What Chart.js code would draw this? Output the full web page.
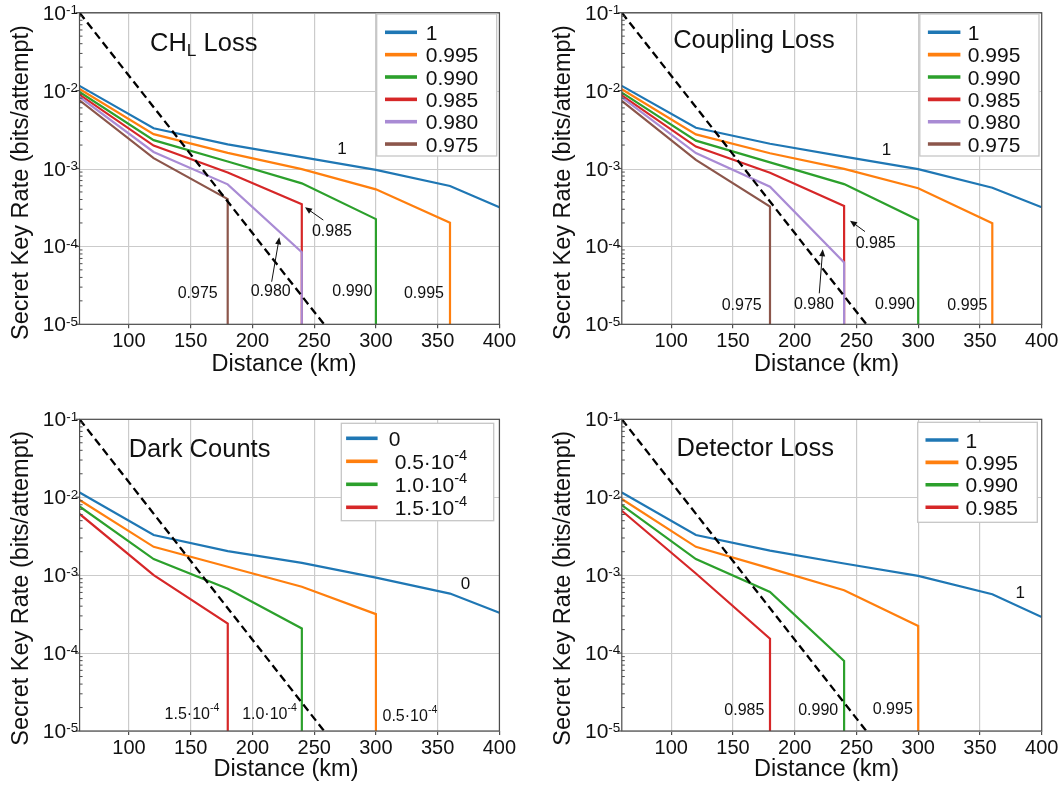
<!DOCTYPE html>
<html>
<head>
<meta charset="utf-8">
<title>Secret key rate vs distance</title>
<script src="https://cdn.jsdelivr.net/npm/chart.js@4.4.1/dist/chart.umd.min.js"></script>
<style>
  html, body { margin: 0; padding: 0; background: #fff; }
  #page { position: relative; width: 1062px; height: 789px; overflow: hidden; }
  #page canvas { position: absolute; }
</style>
</head>
<body>
<div id="page">
  <canvas id="chChl" width="531" height="390" style="left:0;top:0"></canvas>
  <canvas id="chCoupling" width="531" height="390" style="left:531px;top:0"></canvas>
  <canvas id="chDark" width="531" height="399" style="left:0;top:390px"></canvas>
  <canvas id="chDetector" width="531" height="399" style="left:531px;top:390px"></canvas>
</div>
<script>
/* Secret key rate (bits/attempt) vs distance (km), four loss/noise sweeps */

// ─── Data ───────────────────────────────────────────
const distanceKm = [60, 120, 180, 240, 300, 360, 400];
const xTicksKm = [100, 150, 200, 250, 300, 350, 400];
const yDecades = [1e-5, 1e-4, 1e-3, 1e-2, 1e-1];
const boundKm = [60, 258];
const boundRate = [1e-1, 1e-5];
const RATE_FLOOR = 1e-7; // rate hits zero past the cutoff distance

// CH_L loss
const chlLabels = ['1', '0.995', '0.990', '0.985', '0.980', '0.975'];
const chlRate1 = [0.0115, 0.00328, 0.00204, 0.00140, 0.00096, 0.000596, 0.000318];
const chlRate995 = [0.0105, 0.00276, 0.00159, 0.00098, 0.00054, 0.000201];
const chlRate990 = [0.0096, 0.00231, 0.00123, 0.000645, 0.000224];
const chlRate985 = [0.0089, 0.00197, 0.00089, 0.000347];
const chlRate980 = [0.0083, 0.00163, 0.000626, 0.000084];
const chlRate975 = [0.0075, 0.00136, 0.000405];

// Coupling loss
const cplLabels = ['1', '0.995', '0.990', '0.985', '0.980', '0.975'];
const cplRate1 = [0.0115, 0.00334, 0.00208, 0.00142, 0.00098, 0.000567, 0.000318];
const cplRate995 = [0.0104, 0.00274, 0.00157, 0.00099, 0.000557, 0.000198];
const cplRate990 = [0.0094, 0.00228, 0.00120, 0.00063, 0.000218];
const cplRate985 = [0.0087, 0.00191, 0.00088, 0.00033];
const cplRate980 = [0.0082, 0.00158, 0.000584, 0.000062];
const cplRate975 = [0.0074, 0.00129, 0.000324];

// Dark counts
const darkLabels = ['0', ' 0.5·10^{-4}', ' 1.0·10^{-4}', ' 1.5·10^{-4}'];
const darkRate0 = [0.0115, 0.00327, 0.00203, 0.00144, 0.00093, 0.00058, 0.00033];
const darkRate05 = [0.0092, 0.00231, 0.00128, 0.00071, 0.000316];
const darkRate10 = [0.0076, 0.00161, 0.00067, 0.000207];
const darkRate15 = [0.0061, 0.00100, 0.000239];

// Detector loss
const detLabels = ['1', '0.995', '0.990', '0.985'];
const detRate1 = [0.0115, 0.00327, 0.00206, 0.00141, 0.00098, 0.00057, 0.00029];
const detRate995 = [0.0095, 0.00231, 0.00122, 0.00064, 0.000223];
const detRate990 = [0.0079, 0.00161, 0.00061, 0.000079];
const detRate985 = [0.0067, 0.00105, 0.000153];

// ─── Styles ─────────────────────────────────────────
const FONT = '"Liberation Sans", Arial, Helvetica, sans-serif';
const COLORS = ['#1f77b4', '#ff7f0e', '#2ca02c', '#d62728', '#a98bd4', '#8c564b'];
const GRID = '#cbcbcb';
const FRAME = '#4d4d4d';
const INK = '#111';

Chart.defaults.font.family = FONT;
Chart.defaults.color = INK;

// ─── Helpers ────────────────────────────────────────
function toPoints(values) {
  const pts = values.map((v, i) => ({ x: distanceKm[i], y: v }));
  if (values.length < distanceKm.length) {
    pts.push({ x: distanceKm[values.length - 1], y: RATE_FLOOR });
  }
  return pts;
}

// text with ^{sup} and _{sub} parts, drawn on the alphabetic baseline
function drawRich(ctx, text, x, y, size, align, opt) {
  const o = Object.assign({ supScale: 0.66, supRaise: 0.4, subScale: 0.68, subDrop: 0.22 }, opt || {});
  const parts = text.split(/(\^\{[^}]*\}|_\{[^}]*\})/).filter(Boolean).map(s => {
    if (s[0] === '^') return { t: s.slice(2, -1), size: size * o.supScale, dy: -size * o.supRaise };
    if (s[0] === '_') return { t: s.slice(2, -1), size: size * o.subScale, dy: size * o.subDrop };
    return { t: s, size: size, dy: 0 };
  });
  let total = 0;
  parts.forEach(p => {
    ctx.font = p.size + 'px ' + FONT;
    p.w = ctx.measureText(p.t).width;
    total += p.w;
  });
  let cx = align === 'right' ? x - total : align === 'center' ? x - total / 2 : x;
  ctx.textAlign = 'left';
  ctx.textBaseline = 'alphabetic';
  parts.forEach(p => {
    ctx.font = p.size + 'px ' + FONT;
    ctx.fillText(p.t, cx, y + p.dy);
    cx += p.w;
  });
}

function seg(ctx, x1, y1, x2, y2) {
  ctx.beginPath();
  ctx.moveTo(x1, y1);
  ctx.lineTo(x2, y2);
  ctx.stroke();
}

function arrow(ctx, x1, y1, x2, y2) {
  const ang = Math.atan2(y2 - y1, x2 - x1);
  const len = 7, half = 3;
  seg(ctx, x1, y1, x2 - Math.cos(ang) * len * 0.6, y2 - Math.sin(ang) * len * 0.6);
  ctx.beginPath();
  ctx.moveTo(x2, y2);
  ctx.lineTo(x2 - Math.cos(ang) * len - Math.sin(ang) * half, y2 - Math.sin(ang) * len + Math.cos(ang) * half);
  ctx.lineTo(x2 - Math.cos(ang) * len + Math.sin(ang) * half, y2 - Math.sin(ang) * len - Math.cos(ang) * half);
  ctx.closePath();
  ctx.fill();
}

// ─── Decoration plugin: frame, log ticks, titles, legend, notes ──
const decorPlugin = {
  id: 'decor',
  beforeDatasetsDraw(chart) {
    const { ctx, chartArea: a } = chart;
    const ys = chart.scales.y;
    ctx.save();
    ctx.strokeStyle = GRID;
    ctx.lineWidth = 1.2;
    yDecades.forEach(v => {
      const py = Math.round(ys.getPixelForValue(v)) + 0.5;
      seg(ctx, a.left, py, a.right, py);
    });
    ctx.restore();
  },
  afterDatasetsDraw(chart, args, o) {
    const { ctx, chartArea: a } = chart;
    const xs = chart.scales.x, ys = chart.scales.y;
    ctx.save();

    // frame
    ctx.strokeStyle = FRAME;
    ctx.lineWidth = 1.2;
    ctx.strokeRect(a.left, a.top, a.right - a.left, a.bottom - a.top);

    // y major ticks + labels
    ctx.fillStyle = INK;
    yDecades.forEach(v => {
      const py = ys.getPixelForValue(v);
      seg(ctx, a.left - 4, py, a.left, py);
      drawRich(ctx, '10^{' + Math.round(Math.log10(v)) + '}', a.left - 1.5, py + 7, 21, 'right',
        { supScale: 0.64, supRaise: 0.27 });
    });
    // y minor ticks (inside)
    ctx.lineWidth = 1;
    yDecades.slice(0, -1).forEach(d => {
      for (let m = 2; m <= 9; m++) {
        const py = ys.getPixelForValue(m * d);
        seg(ctx, a.left, py, a.left + 3, py);
      }
    });

    // panel title
    drawRich(ctx, o.title.text, o.title.x, o.title.y, 25.5, 'left');

    // axis titles
    ctx.font = '23.5px ' + FONT;
    ctx.textAlign = 'center';
    ctx.textBaseline = 'middle';
    ctx.fillText('Distance (km)', o.xTitle.x, o.xTitle.y);
    ctx.save();
    ctx.translate(o.yTitle.x, o.yTitle.y);
    ctx.rotate(-Math.PI / 2);
    ctx.fillText('Secret Key Rate (bits/attempt)', 0, 0);
    ctx.restore();

    // legend
    const lg = o.legend;
    ctx.fillStyle = '#fff';
    ctx.fillRect(lg.left, lg.top, lg.right - lg.left, lg.bottom - lg.top);
    ctx.strokeStyle = '#c6c6c6';
    ctx.lineWidth = 1.3;
    ctx.strokeRect(lg.left, lg.top, lg.right - lg.left, lg.bottom - lg.top);
    o.labels.forEach((lab, i) => {
      const yc = lg.row0 + i * lg.rowGap;
      ctx.strokeStyle = COLORS[i];
      ctx.lineWidth = 3.6;
      seg(ctx, lg.line0, yc, lg.line1, yc);
      ctx.fillStyle = INK;
      drawRich(ctx, lab, lg.text, yc + 7.5, 21, 'left', { supScale: 0.7, supRaise: 0.42 });
    });

    // curve annotations
    ctx.fillStyle = INK;
    ctx.strokeStyle = INK;
    ctx.lineWidth = 1;
    o.notes.forEach(n => {
      const size = n.size || 16;
      const px = xs.getPixelForValue(n.x), py = ys.getPixelForValue(n.y);
      drawRich(ctx, n.text, px, py + size * 0.36, size, 'center', { supScale: 0.66, supRaise: 0.5 });
      if (n.from) {
        arrow(ctx, xs.getPixelForValue(n.from[0]), ys.getPixelForValue(n.from[1]),
          xs.getPixelForValue(n.to[0]), ys.getPixelForValue(n.to[1]));
      }
    });
    ctx.restore();
  }
};

// ─── Chart factory ──────────────────────────────────
function makeChart(id, labels, series, box, decor) {
  const datasets = series.map((vals, i) => ({
    label: labels[i],
    data: toPoints(vals),
    borderColor: COLORS[i],
    borderWidth: 2.2,
    pointRadius: 0,
    tension: 0,
    order: -i
  }));
  datasets.push({
    label: 'bound',
    data: boundKm.map((d, i) => ({ x: d, y: boundRate[i] })),
    borderColor: '#000',
    borderWidth: 2.3,
    borderDash: [8, 4.5],
    pointRadius: 0,
    order: -100
  });

  return new Chart(document.getElementById(id), {
    type: 'line',
    data: { datasets },
    plugins: [decorPlugin],
    options: {
      responsive: false,
      animation: false,
      events: [],
      layout: { padding: { left: 0, right: box.right, top: box.top, bottom: 0 } },
      plugins: {
        legend: { display: false },
        tooltip: { enabled: false },
        decor: decor
      },
      scales: {
        x: {
          type: 'linear',
          min: 60,
          max: 400,
          afterBuildTicks: s => { s.ticks = xTicksKm.map(v => ({ value: v })); },
          afterFit: s => { s.height = box.xHeight; },
          grid: { color: GRID, lineWidth: 1.2, tickLength: 4, tickColor: FRAME, drawTicks: true },
          border: { display: false },
          ticks: { font: { size: 20 }, color: INK, padding: 1.5, maxRotation: 0, autoSkip: false }
        },
        y: {
          type: 'logarithmic',
          min: 1e-5,
          max: 1e-1,
          afterFit: s => { s.width = box.yWidth; },
          grid: { display: false },
          border: { display: false },
          ticks: { display: false }
        }
      }
    }
  });
}

// ─── Panels ─────────────────────────────────────────
makeChart('chChl', chlLabels,
  [chlRate1, chlRate995, chlRate990, chlRate985, chlRate980, chlRate975],
  { yWidth: 79.5, right: 31.6, top: 12.7, xHeight: 65.7 },
  {
    title: { text: 'CH_{L} Loss', x: 150, y: 50.7 },
    xTitle: { x: 284, y: 365 },
    yTitle: { x: 22, y: 182.5 },
    labels: chlLabels,
    legend: { left: 376.7, top: 14, right: 496.7, bottom: 156, row0: 32.3, rowGap: 22.35, line0: 385, line1: 417, text: 425.7 },
    notes: [
      { text: '1', x: 272.6, y: 1.82e-3, size: 17 },
      { text: '0.985', x: 264.4, y: 1.62e-4, from: [257.4, 2.18e-4], to: [242.6, 3.18e-4] },
      { text: '0.980', x: 214.8, y: 2.7e-5, from: [215.6, 3.52e-5], to: [221.8, 1.31e-4] },
      { text: '0.975', x: 155.7, y: 2.55e-5 },
      { text: '0.990', x: 280.9, y: 2.7e-5 },
      { text: '0.995', x: 338.9, y: 2.55e-5 }
    ]
  });

makeChart('chCoupling', cplLabels,
  [cplRate1, cplRate995, cplRate990, cplRate985, cplRate980, cplRate975],
  { yWidth: 90.8, right: 20.3, top: 12.7, xHeight: 65.7 },
  {
    title: { text: 'Coupling Loss', x: 142.2, y: 47.5 },
    xTitle: { x: 295.5, y: 365 },
    yTitle: { x: 32.2, y: 182.5 },
    labels: cplLabels,
    legend: { left: 388.8, top: 14, right: 508, bottom: 156, row0: 32.3, rowGap: 22.35, line0: 396.9, line1: 429.4, text: 436.8 },
    notes: [
      { text: '1', x: 274.4, y: 1.78e-3, size: 17 },
      { text: '0.985', x: 265.6, y: 1.12e-4, from: [256.9, 1.55e-4], to: [244.8, 2.14e-4] },
      { text: '0.980', x: 215.6, y: 1.89e-5, from: [219.9, 2.5e-5], to: [222.7, 9.2e-5] },
      { text: '0.975', x: 157.1, y: 1.82e-5 },
      { text: '0.990', x: 281.2, y: 1.89e-5 },
      { text: '0.995', x: 339.8, y: 1.82e-5 }
    ]
  });

makeChart('chDark', darkLabels,
  [darkRate0, darkRate05, darkRate10, darkRate15],
  { yWidth: 79.6, right: 31.6, top: 29.3, xHeight: 58 },
  {
    title: { text: 'Dark Counts', x: 128.7, y: 66.7 },
    xTitle: { x: 286, y: 379.3 },
    yTitle: { x: 22, y: 198.3 },
    labels: darkLabels,
    legend: { left: 341.3, top: 33.3, right: 493.7, bottom: 130.7, row0: 48.3, rowGap: 23, line0: 346.1, line1: 377.6, text: 388.8 },
    notes: [
      { text: '0', x: 372.5, y: 7.85e-4, size: 17 },
      { text: '1.5·10^{-4}', x: 151, y: 1.7e-5 },
      { text: '1.0·10^{-4}', x: 213.8, y: 1.7e-5 },
      { text: '0.5·10^{-4}', x: 327.5, y: 1.6e-5 }
    ]
  });

makeChart('chDetector', detLabels,
  [detRate1, detRate995, detRate990, detRate985],
  { yWidth: 90.8, right: 20.3, top: 29.3, xHeight: 58 },
  {
    title: { text: 'Detector Loss', x: 145.6, y: 65.7 },
    xTitle: { x: 295.5, y: 379.3 },
    yTitle: { x: 32.2, y: 198.3 },
    labels: detLabels,
    legend: { left: 386.7, top: 32.3, right: 506.3, bottom: 132.3, row0: 50, rowGap: 22.4, line0: 394.5, line1: 427.4, text: 434.5 },
    notes: [
      { text: '1', x: 382.7, y: 6.12e-4, size: 17 },
      { text: '0.985', x: 159.2, y: 1.89e-5 },
      { text: '0.990', x: 219, y: 1.89e-5 },
      { text: '0.995', x: 279.4, y: 1.95e-5 }
    ]
  });
</script>
</body>
</html>
